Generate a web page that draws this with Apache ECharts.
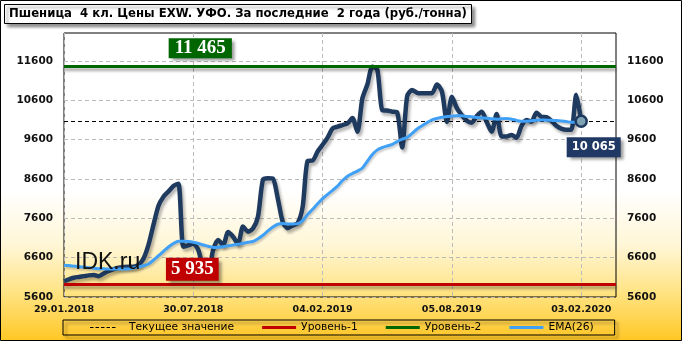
<!DOCTYPE html>
<html>
<head>
<meta charset="utf-8">
<script src="https://cdn.jsdelivr.net/npm/echarts@6/dist/echarts.min.js"></script>
<style>
html,body{margin:0;padding:0;background:#fff;}
#chart{width:682px;height:341px;}
</style>
</head>
<body>
<div id="chart"></div>
<script>
// ---- data ----
const titleText = 'Пшеница  4 кл. Цены EXW. УФО. За последние  2 года (руб./тонна)';
const startDate = '2018-01-29';
const skippedWeek = '2018-12-31';
const totalCategories = 112;
const tickLabels = ['29.01.2018', '30.07.2018', '04.02.2019', '05.08.2019', '03.02.2020'];
const priceValues = [
  6000, 6050, 6090, 6110, 6130, 6150, 6160, 6130, 6200, 6260,
  6310, 6345, 6360, 6370, 6370, 6420, 6580, 6930, 7440, 7920,
  8150, 8280, 8420, 8480, 6880, 6910, 6960, 6800, 6350, 6250,
  6800, 7050, 6920, 7250, 7130, 6950, 7390, 7260, 7340, 7640,
  8580, 8620, 8610, 8100, 7500, 7350, 7420, 7480, 7900, 9060,
  9070, 9300, 9470, 9650, 9880, 9930, 9970, 10010, 10150, 9800,
  10650, 11000, 11450, 11380, 10350, 10340, 10310, 10290, 9400, 10700,
  10860, 10790, 10780, 10780, 10780, 11000, 10820, 10050, 10690, 10400,
  10220, 10080, 10030, 10200, 10310, 10050, 9800, 10250, 9680, 9680,
  9720, 9650, 9950, 10100, 10060, 10280, 10180, 10170, 10080, 9950,
  9880, 9850, 9850, 10740, 10065
];
const emaValues = [
  6410, 6400, 6385, 6370, 6360, 6345, 6330, 6320, 6315, 6310,
  6310, 6310, 6310, 6315, 6340, 6365, 6395, 6440, 6540, 6650,
  6760, 6870, 6960, 7020, 7020, 7010, 6990, 6960, 6920, 6890,
  6860, 6865, 6880, 6900, 6920, 6940, 6965, 6990, 7010, 7080,
  7170, 7280, 7380, 7450, 7465, 7455, 7455, 7465, 7540, 7700,
  7830, 7970, 8100, 8210, 8310, 8420, 8560, 8670, 8740, 8800,
  8880, 9050, 9220, 9340, 9400, 9440, 9480, 9550, 9610, 9660,
  9760, 9870, 9950, 10030, 10100, 10140, 10170, 10185, 10195, 10205,
  10205, 10190, 10180, 10165, 10150, 10145, 10130, 10120, 10130, 10140,
  10120, 10090, 10065, 10065, 10080, 10095, 10100, 10095, 10090, 10085,
  10075, 10060, 10040, 10045, 10070
];
const currentValue = 10065;
const level1 = 5935;
const level2 = 11465;
const yTicks = [5600, 6600, 7600, 8600, 9600, 10600, 11600];

// weekly categories (one holiday week missing)
function two(n){return (n<10?'0':'')+n;}
const categories = [];
(function(){
  let d = new Date(startDate + 'T00:00:00Z');
  const skip = new Date(skippedWeek + 'T00:00:00Z').getTime();
  while (categories.length < totalCategories) {
    if (d.getTime() !== skip) {
      categories.push(two(d.getUTCDate()) + '.' + two(d.getUTCMonth()+1) + '.' + d.getUTCFullYear());
    }
    d = new Date(d.getTime() + 7*86400000);
  }
})();

const fmtSpace = v => String(v).replace(/\B(?=(\d{3})+(?!\d))/g, ' ');
const lastIdx = priceValues.length - 1;
const FONT = 'Verdana, "DejaVu Sans", sans-serif';

const chart = echarts.init(document.getElementById('chart'), null, {renderer:'canvas'});

const yAxisCommon = {
  type: 'value', min: 5600, max: 12310, interval: 1000,
  axisLine: {show: false},
  axisLabel: {
    color: '#111', fontFamily: FONT, fontWeight: 'bold', fontSize: 10.5, margin: 11,
    customValues: yTicks, formatter: v => String(v)
  }
};

const solidIcon = 'path://M0,0H34V3H0Z';
const dashedIcon = 'path://M0,0H0.01V0.01H0ZM34,2.99H33.99V3H34ZM0,1H3.5V2H0ZM5.5,1H9V2H5.5ZM11,1H14.5V2H11ZM16.5,1H20V2H16.5ZM22,1H25.5V2H22Z';

chart.setOption({
  backgroundColor: new echarts.graphic.LinearGradient(0, 0, 0, 1, [
    {offset: 0, color: '#ffffff'},
    {offset: 0.56, color: '#ffffff'},
    {offset: 0.72, color: '#fff6d6'},
    {offset: 0.86, color: '#ffe382'},
    {offset: 1, color: '#ffc724'}
  ]),
  animation: false,
  title: {
    text: titleText, left: 4, top: 4,
    backgroundColor: '#ffffff', borderColor: '#000', borderWidth: 1,
    padding: [4, 5],
    shadowColor: 'rgba(0,0,0,0.45)', shadowBlur: 3, shadowOffsetX: 3, shadowOffsetY: 3,
    textStyle: {fontFamily: FONT, fontWeight: 'bold', fontSize: 11.7, color: '#000', lineHeight: 12}
  },
  legend: {
    left: 63, top: 320,
    data: [
      {name: 'Текущее значение', icon: dashedIcon},
      {name: 'Уровень-1', icon: solidIcon},
      {name: 'Уровень-2', icon: solidIcon},
      {name: 'EMA(26)', icon: solidIcon}
    ],
    symbolKeepAspect: false,
    itemWidth: 34, itemHeight: 3, itemGap: 28,
    padding: [1, 21, 1, 27],
    borderColor: '#000', borderWidth: 1,
    shadowColor: 'rgba(0,0,0,0.45)', shadowBlur: 3, shadowOffsetX: 3, shadowOffsetY: 3,
    backgroundColor: 'rgba(255,210,70,0.01)',
    textStyle: {fontFamily: FONT, fontSize: 10.7, color: '#000', lineHeight: 13}
  },
  grid: {left: 64, top: 33, right: 66, bottom: 44, show: true, borderColor: '#000', borderWidth: 1, backgroundColor: 'transparent'},
  xAxis: {
    type: 'category', data: categories, boundaryGap: false,
    axisLine: {show: false}, axisTick: {show: false},
    axisLabel: {interval: 25, color: '#111', fontFamily: FONT, fontWeight: 'bold', fontSize: 9.5, margin: 8},
    splitLine: {show: true, interval: 25, lineStyle: {color: '#bbbbbb', type: [4, 3], width: 1}}
  },
  yAxis: [
    Object.assign({}, yAxisCommon, {position: 'left',
      axisTick: {show: false, customValues: yTicks},
      splitLine: {show: true, lineStyle: {color: '#bbbbbb', type: [4, 3], width: 1}}}),
    Object.assign({}, yAxisCommon, {position: 'right',
      axisTick: {show: false, customValues: yTicks},
      splitLine: {show: false}})
  ],
  graphic: [
    {type: 'rect', z: 100, silent: true, shape: {x: 0.5, y: 0.5, width: 681, height: 340},
     style: {fill: 'none', stroke: '#000', lineWidth: 1}},
    {type: 'text', z: 100, left: 75, top: 251, silent: true,
     style: {text: 'IDK.ru', fill: '#111', font: '23px "Liberation Sans", Arial, sans-serif'}}
  ],
  series: [
    {
      name: 'Текущее значение', type: 'line', data: [], symbol: 'none', z: 1,
      itemStyle: {color: '#000'},
      lineStyle: {color: '#000', width: 1, type: [4, 3]},
      markLine: {
        silent: true, symbol: 'none', label: {show: false}, z: 1,
        lineStyle: {color: '#000', width: 1, type: [4, 3]},
        data: [{yAxis: currentValue}]
      }
    },
    {
      name: 'Уровень-1', type: 'line', data: [], symbol: 'none', z: 2,
      itemStyle: {color: '#c00000'},
      lineStyle: {color: '#c00000', width: 3},
      markLine: {
        silent: true, symbol: 'none', label: {show: false},
        lineStyle: {color: '#c00000', width: 3, type: 'solid', shadowColor: 'rgba(0,0,0,0.35)', shadowBlur: 3, shadowOffsetY: 3},
        data: [{yAxis: level1}]
      },
      markPoint: {
        silent: true, symbol: 'rect', symbolSize: 0, z: 20,
        data: [{coord: [26, level1], value: level1}],
        label: {
          show: true, formatter: p => fmtSpace(p.value), offset: [-1, -14.5],
          color: '#fff', fontFamily: '"Liberation Serif", "Times New Roman", serif', fontWeight: 'bold', fontSize: 19, lineHeight: 19,
          backgroundColor: '#c00000', padding: [2, 5],
          shadowColor: 'rgba(0,0,0,0.4)', shadowBlur: 3, shadowOffsetX: 3, shadowOffsetY: 3
        }
      }
    },
    {
      name: 'Уровень-2', type: 'line', data: [], symbol: 'none', z: 2,
      itemStyle: {color: '#006600'},
      lineStyle: {color: '#006600', width: 3},
      markLine: {
        silent: true, symbol: 'none', label: {show: false},
        lineStyle: {color: '#006600', width: 3, type: 'solid', shadowColor: 'rgba(0,0,0,0.35)', shadowBlur: 3, shadowOffsetY: 3},
        data: [{yAxis: level2}]
      },
      markPoint: {
        silent: true, symbol: 'rect', symbolSize: 0, z: 20,
        data: [{coord: [27, level2], value: level2}],
        label: {
          show: true, formatter: p => fmtSpace(p.value), offset: [2, -18],
          color: '#fff', fontFamily: '"Liberation Serif", "Times New Roman", serif', fontWeight: 'bold', fontSize: 19, lineHeight: 18,
          backgroundColor: '#006600', padding: [1, 6],
          shadowColor: 'rgba(0,0,0,0.4)', shadowBlur: 3, shadowOffsetX: 3, shadowOffsetY: 3
        }
      }
    },
    {
      name: 'Цена', type: 'line', data: priceValues, smooth: 0.25, symbol: 'none', z: 3,
      lineStyle: {color: '#1f3a5f', width: 4.5, shadowColor: 'rgba(0,0,0,0.3)', shadowBlur: 3, shadowOffsetX: 2, shadowOffsetY: 3},
      itemStyle: {color: '#1f3a5f'},
      markPoint: {
        silent: true, symbol: 'circle', symbolSize: 11, z: 30,
        itemStyle: {color: '#7fa3b3', borderColor: '#1f3a5f', borderWidth: 2.5},
        data: [{coord: [lastIdx, priceValues[lastIdx]], value: priceValues[lastIdx]}],
        label: {
          show: true, formatter: p => fmtSpace(p.value), offset: [12.5, 26],
          color: '#fff', fontFamily: FONT, fontWeight: 'bold', fontSize: 11.5, lineHeight: 12,
          backgroundColor: '#1f3864', padding: [4, 5],
          shadowColor: 'rgba(0,0,0,0.4)', shadowBlur: 3, shadowOffsetX: 3, shadowOffsetY: 3
        }
      }
    },
    {
      name: 'EMA(26)', type: 'line', data: emaValues, smooth: 0.3, symbol: 'none', z: 4,
      itemStyle: {color: '#3fa0f5'},
      lineStyle: {color: '#3fa0f5', width: 3, shadowColor: 'rgba(0,0,0,0.2)', shadowBlur: 2, shadowOffsetX: 1, shadowOffsetY: 2}
    }
  ]
});
</script>
</body>
</html>
